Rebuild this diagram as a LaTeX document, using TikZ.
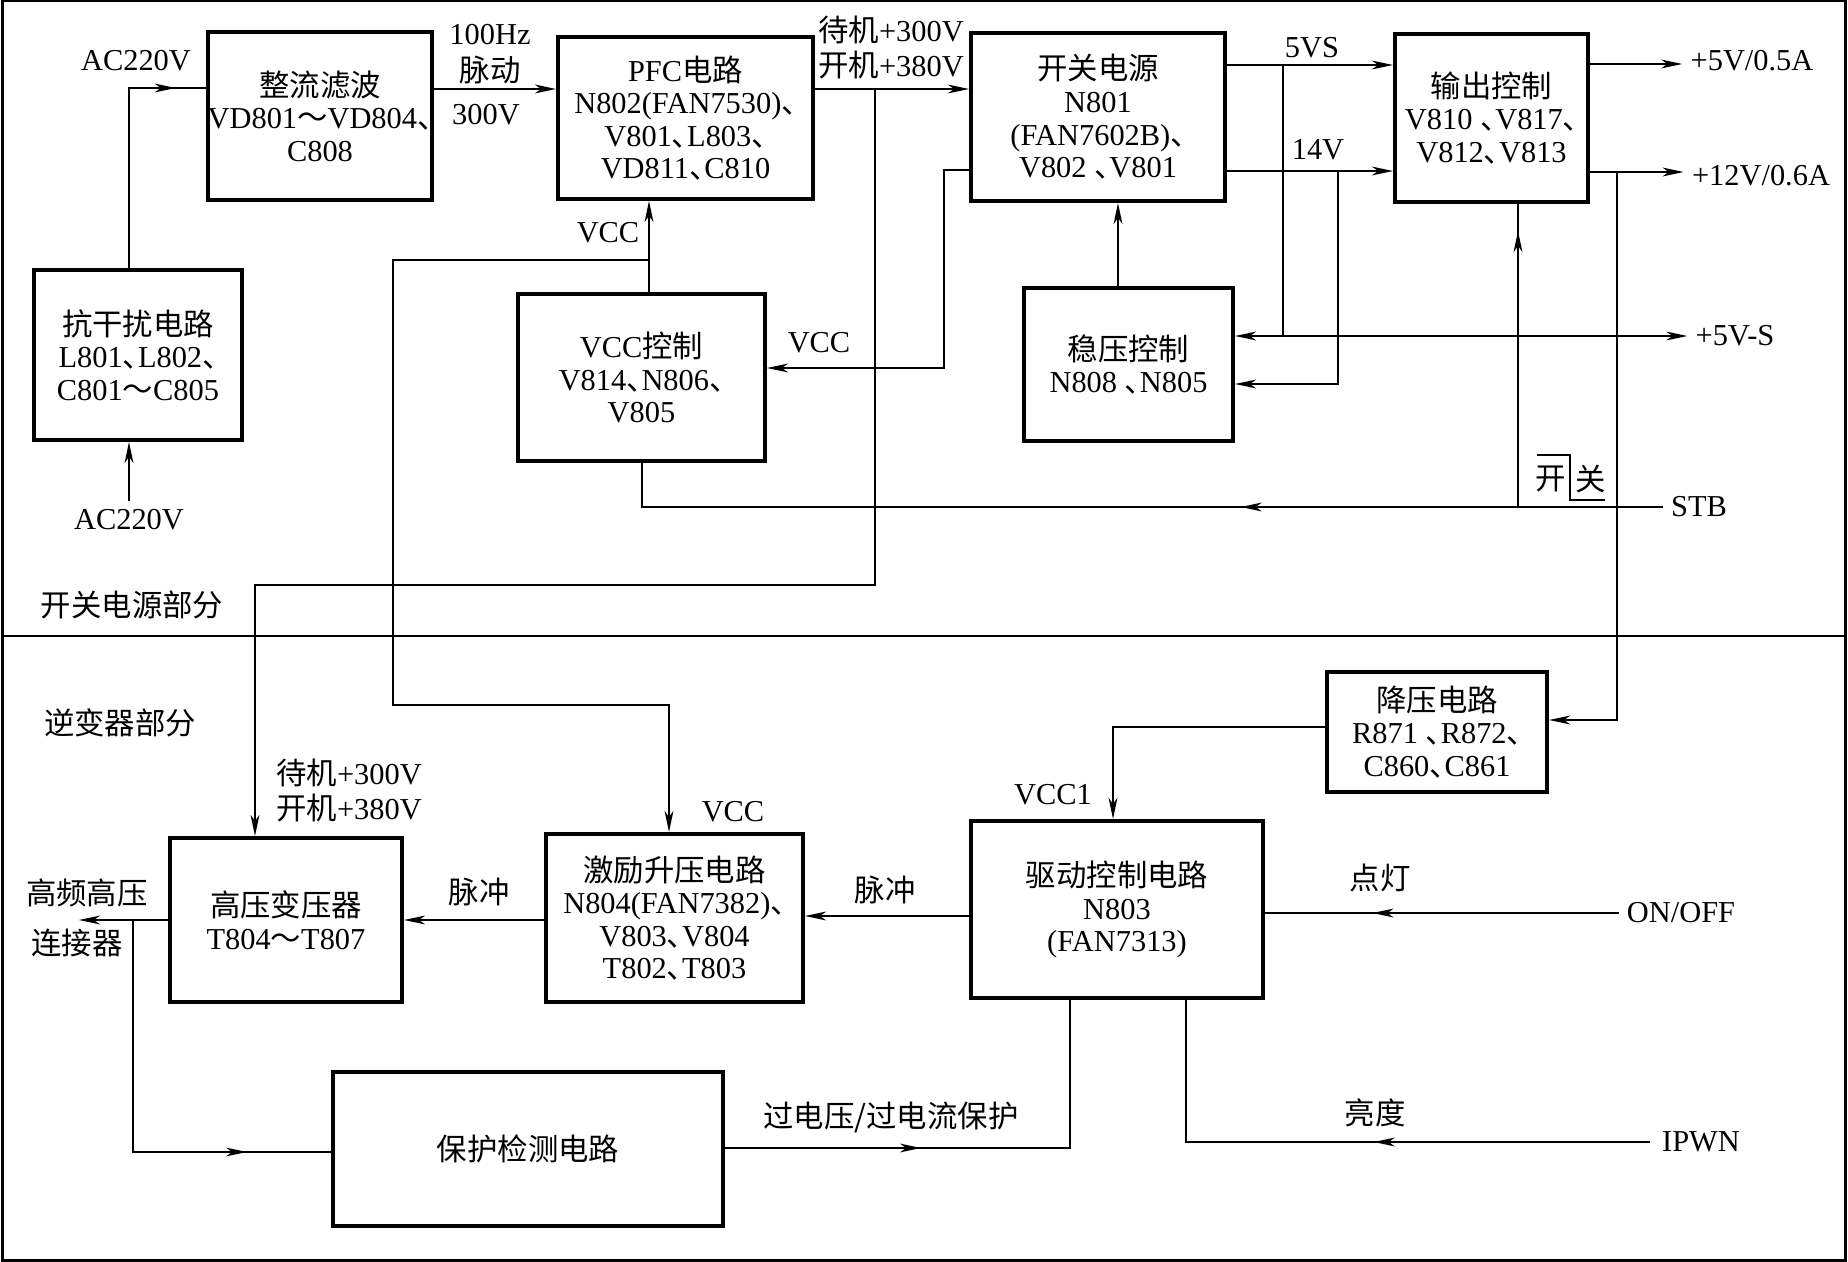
\documentclass[tikz,border=0pt]{standalone}
\usepackage{fontspec}
\setmainfont{Liberation Serif}
\newfontfamily\cjkfont{Noto Sans CJK SC}
\newcommand{\zh}[1]{{\cjkfont #1}}
\newcommand{\dun}{\makebox[0.5em][l]{\cjkfont 、}}
\usetikzlibrary{arrows.meta,decorations.markings}
\begin{document}
\begin{tikzpicture}[x=0.5pt,y=-0.5pt,
  >={Stealth[length=10.5pt,width=4.4pt,inset=3pt]},
  every node/.style={font=\fontsize{15.2pt}{16.3pt}\selectfont},
  blk/.style={draw, line width=2pt, align=center, inner sep=0pt},
  conn/.style={line width=1pt},
  thinconn/.style={line width=0.7pt},
  lbl/.style={align=center, inner sep=0pt},
  endlbl/.style={align=center, inner sep=4pt},
  marr/.style={postaction={decorate,decoration={markings,mark=at position #1 with {\arrow{>}}}}},
]
\useasboundingbox (0,0) rectangle (1848,1262);
% frame and divider
\draw[line width=1.5pt] (2,1) rectangle (1845,1260);
\draw[line width=0.8pt] (2,636) -- (1845,636);

% ---------- blocks ----------
\node[blk, minimum width=104pt, minimum height=85pt] (kgr) at (138,355)
  {\zh{抗干扰电路}\\L801\dun L802\dun\\C801\zh{～}C805};
\node[blk, minimum width=110pt, minimum height=84pt] (zl) at (320,116)
  {\zh{整流滤波}\\VD801\zh{～}VD804\dun\\C808};
\node[blk, minimum width=127.5pt, minimum height=81pt] (pfc) at (685.5,118)
  {PFC\zh{电路}\\N802(FAN7530)\dun\\V801\dun L803\dun\\VD811\dun C810};
\node[blk, minimum width=123.5pt, minimum height=83.5pt] (vc) at (641.5,377.5)
  {VCC\zh{控制}\\V814\dun N806\dun\\V805};
\node[blk, minimum width=127pt, minimum height=84pt] (kg) at (1098,117)
  {\zh{开关电源}\\N801\\(FAN7602B)\dun\\V802 \dun V801};
\node[blk, minimum width=104.5pt, minimum height=76.5pt] (wy) at (1128.5,364.5)
  {\zh{稳压控制}\\N808 \dun N805};
\node[blk, minimum width=96.5pt, minimum height=84pt] (sc) at (1491.5,118)
  {\zh{输出控制}\\V810 \dun V817\dun\\V812\dun V813};
\node[blk, minimum width=110pt, minimum height=60pt] (jy) at (1437,732)
  {\zh{降压电路}\\R871 \dun R872\dun\\C860\dun C861};
\node[blk, minimum width=146pt, minimum height=88.5pt] (qd) at (1117,909.5)
  {\zh{驱动控制电路}\\N803\\(FAN7313)};
\node[blk, minimum width=116pt, minimum height=82pt] (hv) at (286,920)
  {\zh{高压变压器}\\T804\zh{～}T807};
\node[blk, minimum width=128.5pt, minimum height=84pt] (jl) at (674.5,918)
  {\zh{激励升压电路}\\N804(FAN7382)\dun\\V803\dun V804\\T802\dun T803};
\node[blk, minimum width=195pt, minimum height=77pt] (bh) at (528,1149)
  {\zh{保护检测电路}};

% ---------- labels ----------
\node[lbl] (acTop) at (136,61) {AC220V};
\node[endlbl] (acb) at (129,520) {AC220V};
\node[lbl] (l100) at (490,35) {100Hz};
\node[lbl] (lmd) at (490,70) {\zh{脉动}};
\node[lbl] (l300) at (486,115) {300V};
\node[lbl] (ldj1) at (891,30) {\zh{待机}+300V};
\node[lbl] (lkj1) at (891,65) {\zh{开机}+380V};
\node[lbl] (ldj2) at (349,773) {\zh{待机}+300V};
\node[lbl] (lkj2) at (349,808) {\zh{开机}+380V};
\node[lbl] (lvcc1) at (608,233) {VCC};
\node[lbl] (lvcc2) at (733,812) {VCC};
\node[lbl] (lvcc3) at (819,343) {VCC};
\node[lbl] (l5vs) at (1312,48) {5VS};
\node[lbl] (l14v) at (1318,150) {14V};
\node[endlbl] (p5a) at (1752,61) {+5V/0.5A};
\node[endlbl] (p12) at (1761,176) {+12V/0.6A};
\node[endlbl] (p5s) at (1735,336) {+5V-S};
\node[endlbl] (stb) at (1699,507) {STB};
\node[lbl] (lk) at (1551,479) {\zh{开}};
\node[lbl] (lg) at (1591,479) {\zh{关}};
\node[lbl] (sec1) at (132,605) {\zh{开关电源部分}};
\node[lbl] (sec2) at (120,723) {\zh{逆变器部分}};
\node[lbl] (lvcc4) at (1053,795) {VCC1};
\node[lbl] (ldd) at (1380,878) {\zh{点灯}};
\node[endlbl] (onoff) at (1681,913) {ON/OFF};
\node[lbl] (lld) at (1375,1113) {\zh{亮度}};
\node[endlbl, inner sep=6pt] (ipwn) at (1701,1142) {IPWN};
\node[lbl] (lgy) at (891,1117) {\zh{过电压/过电流保护}};
\node[lbl] (lmc1) at (885,890) {\zh{脉冲}};
\node[lbl] (lmc2) at (479,892) {\zh{脉冲}};
\node[lbl] (lgp) at (87,893) {\zh{高频高压}};
\node[lbl] (llj) at (77,943) {\zh{连接器}};

% ---------- junction coordinates ----------
\coordinate (j1) at (129,88);
\coordinate (j2) at (875,89);
\coordinate (j3) at (649,260);
\coordinate (j5) at (1283,65);
\coordinate (j6) at (1283,336);
\coordinate (j7) at (1338,171);
\coordinate (j8) at (1617,172);
\coordinate (j9) at (1518,507);
\coordinate (j10) at (133,920);
\coordinate (hvout) at (79,920);

% ---------- connectors ----------
\draw[conn,->] (acb) -- (acb |- kgr.south);
\draw[conn,marr=-15pt] (kgr.north -| j1) -- (j1) -- (j1 -| zl.west);
\draw[conn,->] (zl.east |- j2) -- (pfc.west |- j2);
\draw[conn,->] (pfc.east |- j2) -- (kg.west |- j2);
\draw[conn,->] (j2) -- (875,585) -- (255,585) -- (hv.north -| 255,0);
\draw[conn,->] (vc.north -| j3) -- (pfc.south -| j3);
\draw[conn,->] (j3) -- (393,260) -- (393,705) -- (669,705) -- (jl.north -| 669,0);
\draw[conn,->] (kg.west |- 0,170) -- (944,170) -- (944,368) -- (vc.east |- 0,368);
\draw[conn,->] (wy.north -| 1118,0) -- (kg.south -| 1118,0);
\draw[conn,->] (kg.east |- j5) -- (sc.west |- j5);
\draw[conn,->] (kg.east |- j7) -- (sc.west |- j7);
\draw[conn] (j5) -- (j6);
\draw[conn,->] (j6) -- (wy.east |- j6);
\draw[conn,->] (j6) -- (p5s.west |- j6);
\draw[thinconn,->] (j7) -- (1338,384) -- (wy.east |- 0,384);
\draw[conn,->] (sc.east |- 0,64) -- (p5a.west |- 0,64);
\draw[conn,->] (sc.east |- j8) -- (p12.west |- j8);
\draw[conn,->] (j8) -- (1617,720) -- (jy.east |- 0,720);
\draw[conn,marr=211pt] (stb.west) -- (stb.west -| vc.south) -- (vc.south);
\draw[conn,marr=-13.5pt] (j9) -- (sc.south -| j9);
\draw[line width=0.8pt] (1537,455) -- (1570,455) -- (1570,500) -- (1605,500);
\draw[thinconn,->] (jy.west |- 0,727) -- (1113,727) -- (qd.north -| 1113,0);
\draw[conn,marr=123pt] (onoff.west) -- (qd.east |- onoff.west);
\draw[conn,marr=138pt] (ipwn.west) -- (1186,1142) -- (qd.south -| 1186,0);
\draw[conn,->] (qd.west |- 0,916) -- (jl.east |- 0,916);
\draw[conn,->] (jl.west |- j10) -- (hv.east |- j10);
\draw[conn,->] (hv.west |- j10) -- (hvout);
\draw[conn,marr=-42pt] (j10) -- (133,1152) -- (bh.west |- 0,1152);
\draw[conn,marr=98pt] (bh.east |- 0,1148) -- (1070,1148) -- (qd.south -| 1070,0);
\end{tikzpicture}
\end{document}
